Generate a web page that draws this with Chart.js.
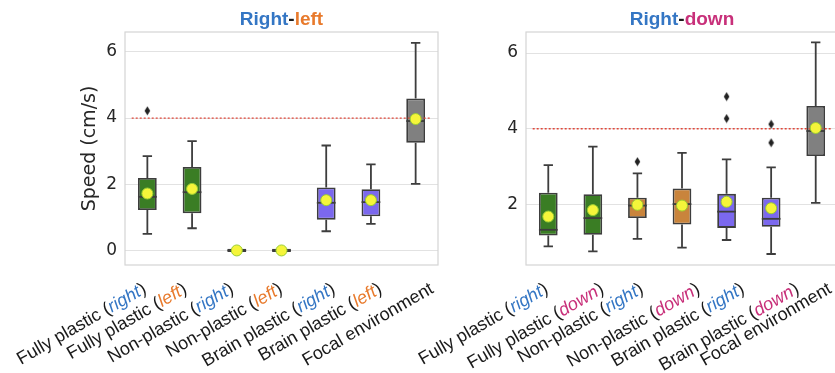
<!DOCTYPE html>
<html><head><meta charset="utf-8">
<script src="https://cdn.jsdelivr.net/npm/chart.js@4.4.0/dist/chart.umd.min.js"></script>
<style>
html,body{margin:0;padding:0;background:#fff;overflow:hidden;width:835px;height:373px}
#c1{position:absolute;left:0;top:0}
#c2{position:absolute;left:330px;top:0}
</style></head><body>
<canvas id="c1" width="460" height="373"></canvas>
<canvas id="c2" width="530" height="373"></canvas>
<script>
// ---------- DATA ----------
const categories = ['Fully plastic','Fully plastic','Non-plastic','Non-plastic','Brain plastic','Brain plastic','Focal environment'];
const rlTags = ['right','left','right','left','right','left',null];
const rdTags = ['right','down','right','down','right','down',null];

// Right-left panel
const rlWhiskerLow  = [0.50, 0.67, 0.00, 0.00, 0.58, 0.80, 2.01];
const rlQ1          = [1.22, 1.12,-0.05,-0.05, 0.93, 1.03, 3.25];
const rlMedian      = [1.62, 1.76, 0.00, 0.00, 1.44, 1.46, 3.91];
const rlQ3          = [2.19, 2.52, 0.05, 0.05, 1.90, 1.85, 4.59];
const rlWhiskerHigh = [2.85, 3.30, 0.00, 0.00, 3.17, 2.60, 6.27];
const rlMean        = [1.72, 1.86, 0.00, 0.00, 1.52, 1.52, 3.97];
const rlOutliers    = [[4.22],[],[],[],[],[],[]];

// Right-down panel
const rdWhiskerLow  = [0.89, 0.76, 1.09, 0.86, 1.06, 0.69, 2.04];
const rdQ1          = [1.18, 1.20, 1.64, 1.47, 1.38, 1.41, 3.28];
const rdMedian      = [1.33, 1.64, 1.97, 2.01, 1.81, 1.62, 3.94];
const rdQ3          = [2.31, 2.27, 2.18, 2.42, 2.28, 2.18, 4.60];
const rdWhiskerHigh = [3.04, 3.53, 2.82, 3.36, 3.19, 2.98, 6.28];
const rdMean        = [1.68, 1.85, 1.99, 1.97, 2.07, 1.90, 4.02];
const rdOutliers    = [[],[],[3.13],[],[4.85,4.27],[4.12,3.63],[]];

const referenceSpeed = 4;
const rlTicks = [0, 2, 4, 6];
const rdTicks = [2, 4, 6];

// ---------- STYLE / LAYOUT ----------
const boxColors = ['#3a7d24','#3a7d24','#c9843c','#c9843c','#7b68ee','#7b68ee','#808080'];
const tagColors = {right:'#3476c4', left:'#e87a2c', down:'#c8307a'};
const BLACK = '#1a1a1a';
const EDGE = '#3d3d3d';
const rlNudge = [-7,-11,-9,-5,3,5,12];
const rdNudge = [-6,5,0,12,12,22,10];

const diamond = document.createElement('canvas');
diamond.width = 7; diamond.height = 10;
(function(){const d=diamond.getContext('2d');d.fillStyle='#222';d.beginPath();d.moveTo(3.5,0.5);d.lineTo(6.3,5);d.lineTo(3.5,9.5);d.lineTo(0.7,5);d.closePath();d.fill();})();

function drawParts(ctx, parts, x, y, rot, align, baseline) {
  ctx.save();
  ctx.translate(x, y);
  ctx.rotate(rot);
  ctx.textBaseline = baseline;
  ctx.textAlign = 'left';
  let total = 0;
  parts.forEach(p => { ctx.font = p.f; p.w = ctx.measureText(p.t).width; total += p.w; });
  let cx = align === 'right' ? -total : (align === 'center' ? -total/2 : 0);
  parts.forEach(p => { ctx.font = p.f; ctx.fillStyle = p.c; ctx.fillText(p.t, cx, 0); cx += p.w; });
  ctx.restore();
}

function makeChart(id, cfg) {
  const labels = categories.map((c,i) => cfg.tags[i] ? c + ' (' + cfg.tags[i] + ')' : c);
  const outlierPts = [];
  cfg.outliers.forEach((arr,i) => arr.forEach(v => outlierPts.push({x: labels[i], y: v})));
  const plugin = {
    id: 'boxextra',
    afterDatasetDraw(chart, args) {
      if (args.index !== 0) return;
      const ctx = chart.ctx, xs = chart.scales.x, ys = chart.scales.y;
      const meta = chart.getDatasetMeta(0);
      ctx.save();
      ctx.strokeStyle = EDGE; ctx.lineWidth = 1.8; ctx.lineCap = 'butt';
      meta.data.forEach((bar, i) => {
        const cx = xs.getPixelForValue(i);
        const hw = bar.width / 2, cw = hw / 2;
        const q1 = ys.getPixelForValue(cfg.q1[i]), q3 = ys.getPixelForValue(cfg.q3[i]);
        const lo = ys.getPixelForValue(cfg.lo[i]), hi = ys.getPixelForValue(cfg.hi[i]);
        const md = ys.getPixelForValue(cfg.med[i]);
        ctx.beginPath();
        ctx.moveTo(cx, q3); ctx.lineTo(cx, hi);
        ctx.moveTo(cx - cw, hi); ctx.lineTo(cx + cw, hi);
        ctx.moveTo(cx, q1); ctx.lineTo(cx, lo);
        ctx.moveTo(cx - cw, lo); ctx.lineTo(cx + cw, lo);
        ctx.stroke();
        ctx.beginPath(); ctx.moveTo(cx - hw, md); ctx.lineTo(cx + hw, md); ctx.stroke();
      });
      const ry = ys.getPixelForValue(referenceSpeed);
      ctx.strokeStyle = '#e0473a'; ctx.lineWidth = 1.3; ctx.setLineDash([2, 2]);
      ctx.beginPath(); ctx.moveTo(xs.getPixelForValue(-0.35), ry); ctx.lineTo(xs.getPixelForValue(6.36), ry); ctx.stroke();
      ctx.restore();
    },
    afterDraw(chart) {
      const ctx = chart.ctx, a = chart.chartArea, xs = chart.scales.x;
      ctx.save();
      ctx.strokeStyle = '#d4d4d4'; ctx.lineWidth = 1.2;
      ctx.strokeRect(a.left, a.top, a.right - a.left, a.bottom - a.top);
      ctx.restore();
      // title
      const tf = 'bold 19px "Liberation Sans", Arial, sans-serif';
      drawParts(ctx, [{t:'Right', c:tagColors.right, f:tf},{t:'-', c:BLACK, f:tf},{t:cfg.titleTag, c:tagColors[cfg.titleTag], f:tf}],
        (a.left + a.right)/2, 25, 0, 'center', 'alphabetic');
      // x labels
      const nf = '18px "Liberation Sans", Arial, sans-serif';
      const itf = 'italic 18px "Liberation Sans", Arial, sans-serif';
      categories.forEach((c, i) => {
        const tag = cfg.tags[i];
        const parts = tag ? [{t:c + ' (', c:BLACK, f:nf},{t:tag, c:tagColors[tag], f:itf},{t:')', c:BLACK, f:nf}]
                          : [{t:c, c:BLACK, f:nf}];
        drawParts(ctx, parts, xs.getPixelForValue(i) + cfg.nudge[i], a.bottom + 15, -Math.PI/6, 'right', 'top');
      });
    }
  };
  return new Chart(document.getElementById(id), {
    type: 'bar',
    data: {
      labels: labels,
      datasets: [
        { type:'bar', data: cfg.q1.map((q,i) => [q, cfg.q3[i]]), backgroundColor: boxColors, borderColor: EDGE,
          borderWidth: 1.8, borderSkipped: false, barPercentage: 0.42, categoryPercentage: 1, order: 3 },
        { type:'line', data: outlierPts, showLine: false, pointStyle: diamond, pointRadius: 4, order: 2 },
        { type:'line', data: cfg.mean, showLine: false, pointStyle: 'circle', pointRadius: 5.5,
          pointBackgroundColor: '#f5f53a', pointBorderColor: '#9acd32', pointBorderWidth: 1, order: 1 }
      ]
    },
    options: {
      responsive: false, devicePixelRatio: 1, animation: false,
      layout: { padding: { left: 0, right: 22, top: 32, bottom: 0 } },
      plugins: { legend: { display: false }, tooltip: { enabled: false }, title: { display: false } },
      scales: {
        x: { type: 'category', offset: true, grid: { display: false }, border: { display: false },
             ticks: { display: false }, afterFit: s => { s.height = 108; } },
        y: { type: 'linear', min: cfg.min, max: cfg.max,
             afterBuildTicks: s => { s.ticks = cfg.ticks.map(v => ({ value: v })); },
             afterFit: s => { s.width = cfg.yWidth; },
             grid: { color: '#e2e2e2', lineWidth: 1, drawTicks: false }, border: { display: false },
             ticks: { padding: 8, color: '#262626', font: { family: '"DejaVu Sans", sans-serif', size: 17 } },
             title: { display: cfg.yTitle, text: 'Speed (cm/s)', color: '#262626',
                      font: { family: '"DejaVu Sans", sans-serif', size: 19 }, padding: { top: 79, bottom: 0 } } }
      }
    },
    plugins: [plugin]
  });
}

makeChart('c1', { tags: rlTags, titleTag: 'left', q1: rlQ1, q3: rlQ3, lo: rlWhiskerLow, hi: rlWhiskerHigh, med: rlMedian,
  mean: rlMean, outliers: rlOutliers, ticks: rlTicks, min: -0.44, max: 6.6, yWidth: 125, yTitle: true, nudge: rlNudge });
makeChart('c2', { tags: rdTags, titleTag: 'down', q1: rdQ1, q3: rdQ3, lo: rdWhiskerLow, hi: rdWhiskerHigh, med: rdMedian,
  mean: rdMean, outliers: rdOutliers, ticks: rdTicks, min: 0.4, max: 6.556, yWidth: 196, yTitle: false, nudge: rdNudge });
</script>
</body></html>
